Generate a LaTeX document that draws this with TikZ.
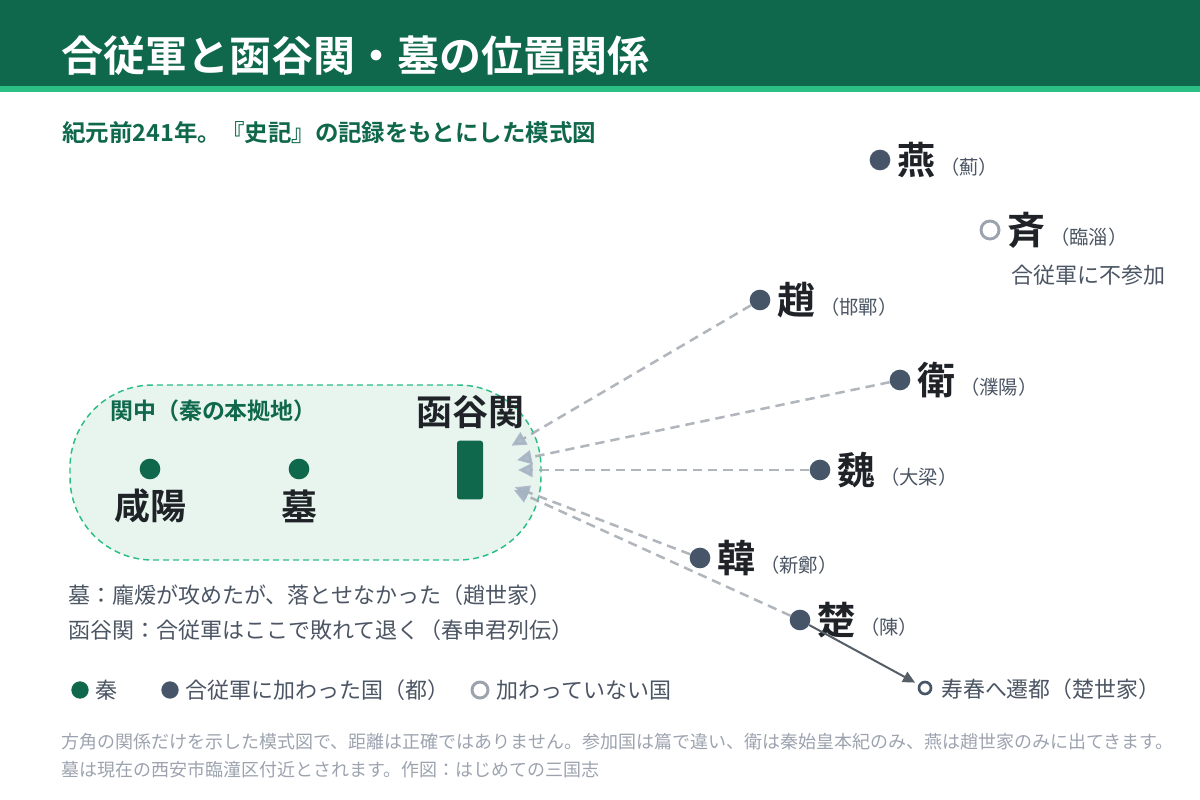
\documentclass[tikz,border=0pt]{standalone}
\usepackage{fontspec}
\setmainfont{Noto Sans CJK JP}[BoldFont={Noto Sans CJK JP Bold}]
\usetikzlibrary{arrows.meta,positioning,calc}
\definecolor{qin}{HTML}{0F684B}
\definecolor{stripe}{HTML}{2BBF85}
\definecolor{zonebg}{HTML}{E7F5EE}
\definecolor{ally}{HTML}{475569}
\definecolor{ink}{HTML}{1F2328}
\definecolor{note}{HTML}{4B5563}
\definecolor{faint}{HTML}{9CA3AF}
\definecolor{route}{HTML}{A3A9B0}
\definecolor{tipc}{HTML}{A5B2C2}
\definecolor{move}{HTML}{555D66}
\newcommand{\fsz}[1]{\fontsize{#1}{#1}\selectfont}
\newcommand{\miyako}[1]{\hspace{3.5pt}{\fsz{14.5}\mdseries\color{note}（#1）}}
\tikzset{
  ttl/.style  ={font=\fsz{31.5}\bfseries,text=white,inner sep=0pt,anchor=west},
  sub/.style  ={font=\fsz{17.6}\bfseries,text=qin,inner sep=0pt,anchor=west},
  zone/.style ={draw=stripe,fill=zonebg,dashed,dash pattern=on 4.5pt off 3pt,
                line width=1.1pt,rounded corners=62pt},
  zlab/.style ={font=\fsz{17.2}\bfseries,text=qin,inner sep=0pt,anchor=west},
  place/.style={font=\fsz{27}\bfseries,text=ink,inner sep=0pt},
  state/.style={font=\fsz{28.5}\bfseries,text=ink,inner sep=0pt,anchor=west},
  qdot/.style ={circle,fill=qin,inner sep=0pt,minimum size=15.5pt},
  adot/.style ={circle,fill=ally,inner sep=0pt,minimum size=15.5pt},
  odot/.style ={circle,draw=faint,line width=2.2pt,fill=white,inner sep=0pt,
                minimum size=13.5pt},
  gate/.style ={fill=qin,rounded corners=2pt,inner sep=0pt,
                minimum width=19.5pt,minimum height=44pt},
  txt/.style  ={font=\fsz{16.5},text=note,inner sep=0pt,anchor=west},
  foot/.style ={font=\fsz{13.5},text=faint,inner sep=0pt,anchor=west},
  route/.style={draw=route,line width=1.9pt,dash pattern=on 7pt off 4.5pt,
                opacity=.85,
                -{Triangle[length=11pt,width=10.5pt,fill=tipc,color=tipc]}},
  mv/.style   ={draw=move,line width=1.5pt,shorten >=3pt,
                -{Triangle[length=9pt,width=8.5pt]}},
}

\begin{document}
\begin{tikzpicture}[x=0.75pt,y=-0.75pt]
\useasboundingbox (0,0) rectangle (1200,800);
% header
\fill[qin] (0,0) rectangle (1200,86);
\fill[stripe] (0,86) rectangle (1200,92);
\node[ttl] (T) at (61,56) {合従軍と函谷関・墓の位置関係};
\node[sub] (ST) at (62,133) {紀元前241年。『史記』の記録をもとにした模式図};

% Guanzhong
\draw[zone] (70,385) rectangle (541,560);
\node[zlab] (KC) at (110,411) {関中（秦の本拠地）};
\node[qdot] (XY) at (150,469) {};
\node[qdot] (MU) at (299,469) {};
\node[place] (XYl) at (150,506) {咸陽};
\node[place] (MUl) at (299,506) {墓};
\node[gate] (HG) at (470,470) {};
\node[place] (HGl) at (470,412) {函谷関};
\coordinate (gc) at (470,470);

% states
\node[adot] (yan) at (880,160) {};
\node[state,right=5pt of yan] (yanl) {燕\miyako{薊}};
\node[odot] (qi) at (990,230) {};
\node[state,right=5pt of qi] (qil) {斉\miyako{臨淄}};
\node[txt] (qin) at (1011,275) {合従軍に不参加};
\node[adot] (zhao) at (760,300) {};
\node[state,right=5pt of zhao] (zhaol) {趙\miyako{邯鄲}};
\node[adot] (wey) at (900,380) {};
\node[state,right=5pt of wey] (weyl) {衛\miyako{濮陽}};
\node[adot] (wei) at (820,470) {};
\node[state,right=5pt of wei] (weil) {魏\miyako{大梁}};
\node[adot] (han) at (700,558) {};
\node[state,right=5pt of han] (hanl) {韓\miyako{新鄭}};
\node[adot] (chu) at (800,620) {};
\node[state,right=5pt of chu] (chul) {楚\miyako{陳}};
\node[circle,draw=ally,line width=2pt,fill=white,inner sep=0pt,
      minimum size=9pt] (SC) at (925,688) {};
\node[font=\fsz{16.4},text=note,inner sep=0pt,anchor=west] (SCl) at (941,689)
  {寿春へ遷都（楚世家）};

% advance on Hangu
\foreach \s in {zhao,wey,wei,han,chu}
  \draw[route] (\s) -- ($(gc)!36pt!(\s)$);
\draw[mv] (chu) -- (SC);

% notes
\node[txt] (N1) at (68,595) {墓：龐煖が攻めたが、落とせなかった（趙世家）};
\node[txt] (N2) at (68,630) {函谷関：合従軍はここで敗れて退く（春申君列伝）};

% legend
\node[qdot,minimum size=13pt] (L1) at (80,690) {};
\node[txt,right=5pt of L1] (L1t) {秦};
\node[adot,minimum size=13pt] (L2) at (170,690) {};
\node[txt,right=5pt of L2] (L2t) {合従軍に加わった国（都）};
\node[odot,minimum size=12pt] (L3) at (480,690) {};
\node[txt,right=5pt of L3] (L3t) {加わっていない国};

% footer
\node[foot] (F1) at (61,742) {方角の関係だけを示した模式図で、距離は正確ではありません。参加国は篇で違い、衛は秦始皇本紀のみ、燕は趙世家のみに出てきます。};
\node[foot] (F2) at (61,770) {墓は現在の西安市臨潼区付近とされます。作図：はじめての三国志};
\end{tikzpicture}
\end{document}
